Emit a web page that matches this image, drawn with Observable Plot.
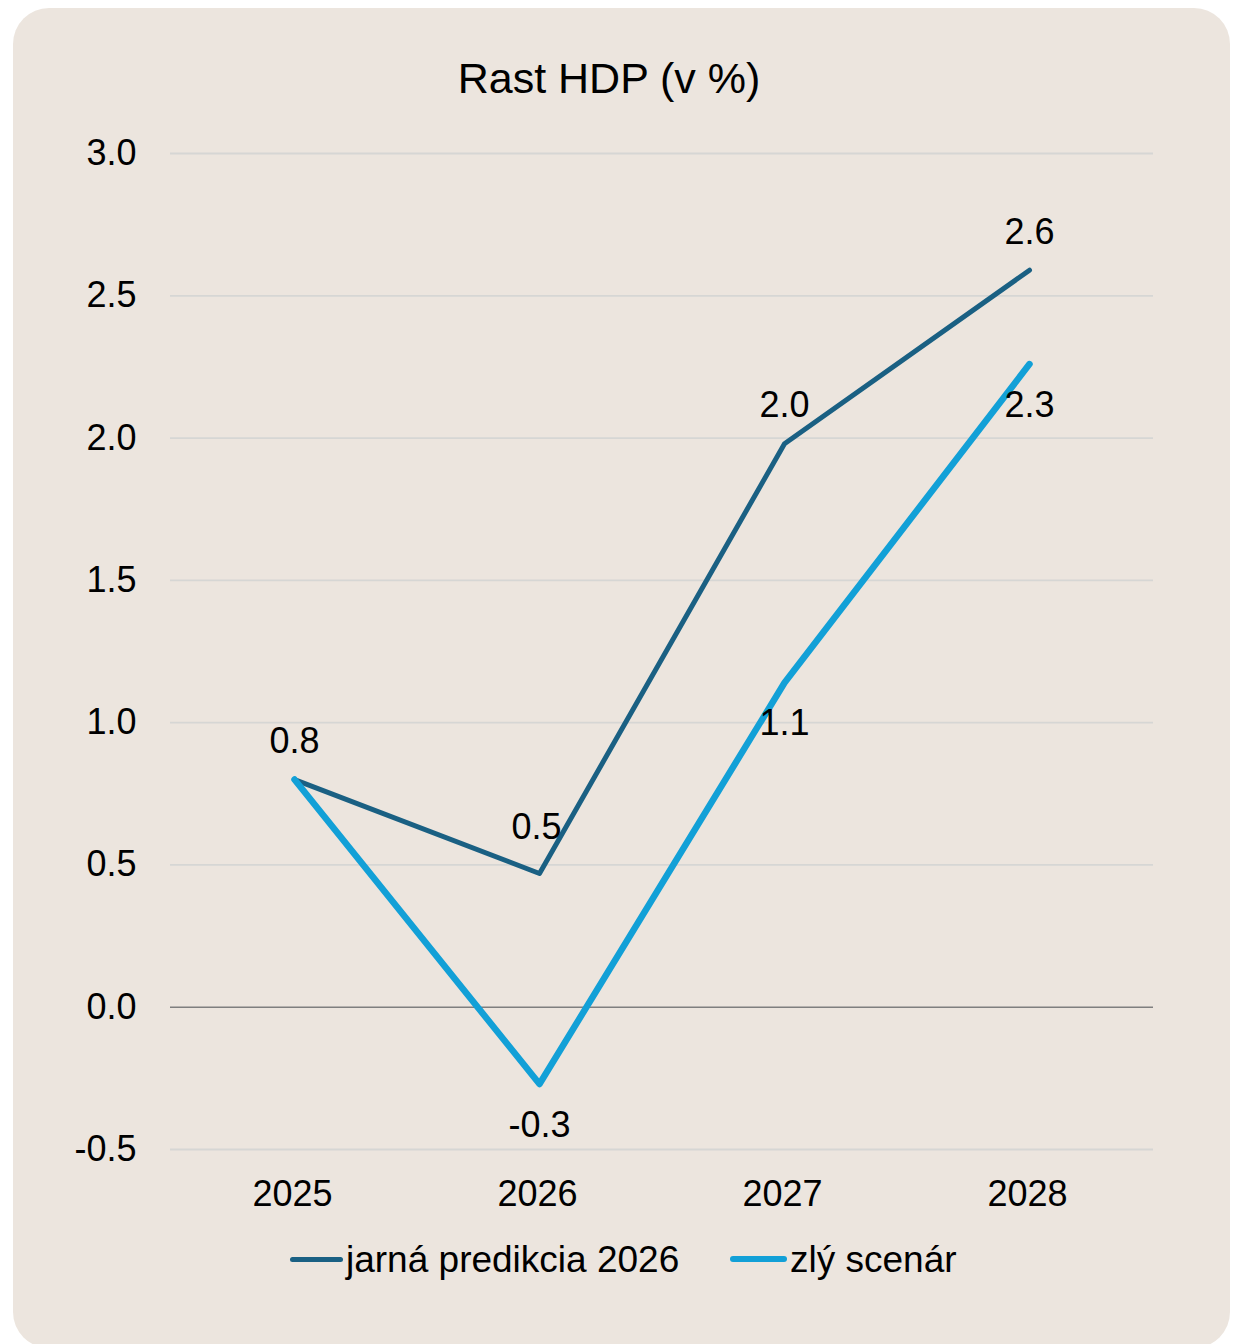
<!DOCTYPE html>
<html><head><meta charset="utf-8">
<script src="https://cdn.jsdelivr.net/npm/d3@7"></script>
<script src="https://cdn.jsdelivr.net/npm/@observablehq/plot@0.6"></script>
<style>
html,body{margin:0;padding:0;background:#fff;}
body{width:1234px;height:1344px;position:relative;overflow:hidden;font-family:"Liberation Sans",Arial,sans-serif;color:#000;}
#panel{position:absolute;left:13px;top:8px;width:1217px;height:1340px;background:#ece5de;border-radius:36px;}
#title{position:absolute;left:0;width:1218px;top:57px;text-align:center;font-size:43px;line-height:1;}
#chart{position:absolute;left:0;top:0;}
.sw{position:absolute;border-radius:4px;}
.lt{position:absolute;font-size:37px;line-height:1;white-space:nowrap;}
</style></head>
<body>
<div id="panel"></div>
<div id="chart"></div>
<div id="title">Rast HDP (v %)</div>
<div id="legend"></div>
<script>
const years = ["2025", "2026", "2027", "2028"];
const jarna = [0.8, 0.47, 1.98, 2.59];
const zly = [0.8, -0.27, 1.14, 2.26];
const yTicks = [-0.5, 0, 0.5, 1, 1.5, 2, 2.5, 3];
const seriesNames = ["jarná predikcia 2026", "zlý scenár"];
const colors = ["#1a6083", "#12a0d7"];

const rows = years.map((year, i) => ({year, jarna: jarna[i], zly: zly[i]}));
const fmt = v => v.toFixed(1);

const plot = Plot.plot({
  width: 1234,
  height: 1220,
  marginLeft: 170,
  marginRight: 81,
  marginTop: 153,
  marginBottom: 71,
  style: {background: "transparent", fontSize: "36px", fontFamily: "'Liberation Sans', Arial, sans-serif", color: "#000"},
  x: {type: "point", domain: years, padding: 0.5},
  y: {domain: [-0.5, 3]},
  marks: [
    Plot.ruleY(yTicks.filter(d => d !== 0), {stroke: "#d6d6d4", strokeWidth: 1.8}),
    Plot.ruleY([0], {stroke: "#7f7f7f", strokeWidth: 1.5}),
    Plot.axisY({ticks: yTicks, tickSize: 0, tickPadding: 34, tickFormat: fmt, label: null}),
    Plot.axisX({tickSize: 0, tickPadding: 31, label: null, dx: -2}),
    Plot.line(rows, {x: "year", y: "jarna", stroke: colors[0], strokeWidth: 5}),
    Plot.line(rows, {x: "year", y: "zly", stroke: colors[1], strokeWidth: 6.5}),
    Plot.text(rows.filter(d => d.year !== "2026"), {x: "year", y: "jarna", text: d => fmt(d.jarna), dy: -38, fill: "#000"}),
    Plot.text(rows.filter(d => d.year === "2026"), {x: "year", y: "jarna", text: d => fmt(d.jarna), dy: -46, dx: -3, fill: "#000"}),
    Plot.text(rows.filter(d => d.year !== "2025"), {x: "year", y: "zly", text: d => fmt(d.zly), dy: 41, fill: "#000"})
  ]
});
document.getElementById("chart").append(plot);

// legend
const legend = document.getElementById("legend");
const items = [
  {sw: [290, 1256.5, 53, 5], tx: 346},
  {sw: [730, 1255.75, 57, 6.5], tx: 790}
];
items.forEach((it, i) => {
  const s = document.createElement("div");
  s.className = "sw";
  s.style.left = it.sw[0] + "px"; s.style.top = it.sw[1] + "px";
  s.style.width = it.sw[2] + "px"; s.style.height = it.sw[3] + "px";
  s.style.background = colors[i];
  legend.append(s);
  const t = document.createElement("div");
  t.className = "lt";
  t.style.left = it.tx + "px"; t.style.top = "1241px";
  t.textContent = seriesNames[i];
  legend.append(t);
});
</script>
</body></html>
